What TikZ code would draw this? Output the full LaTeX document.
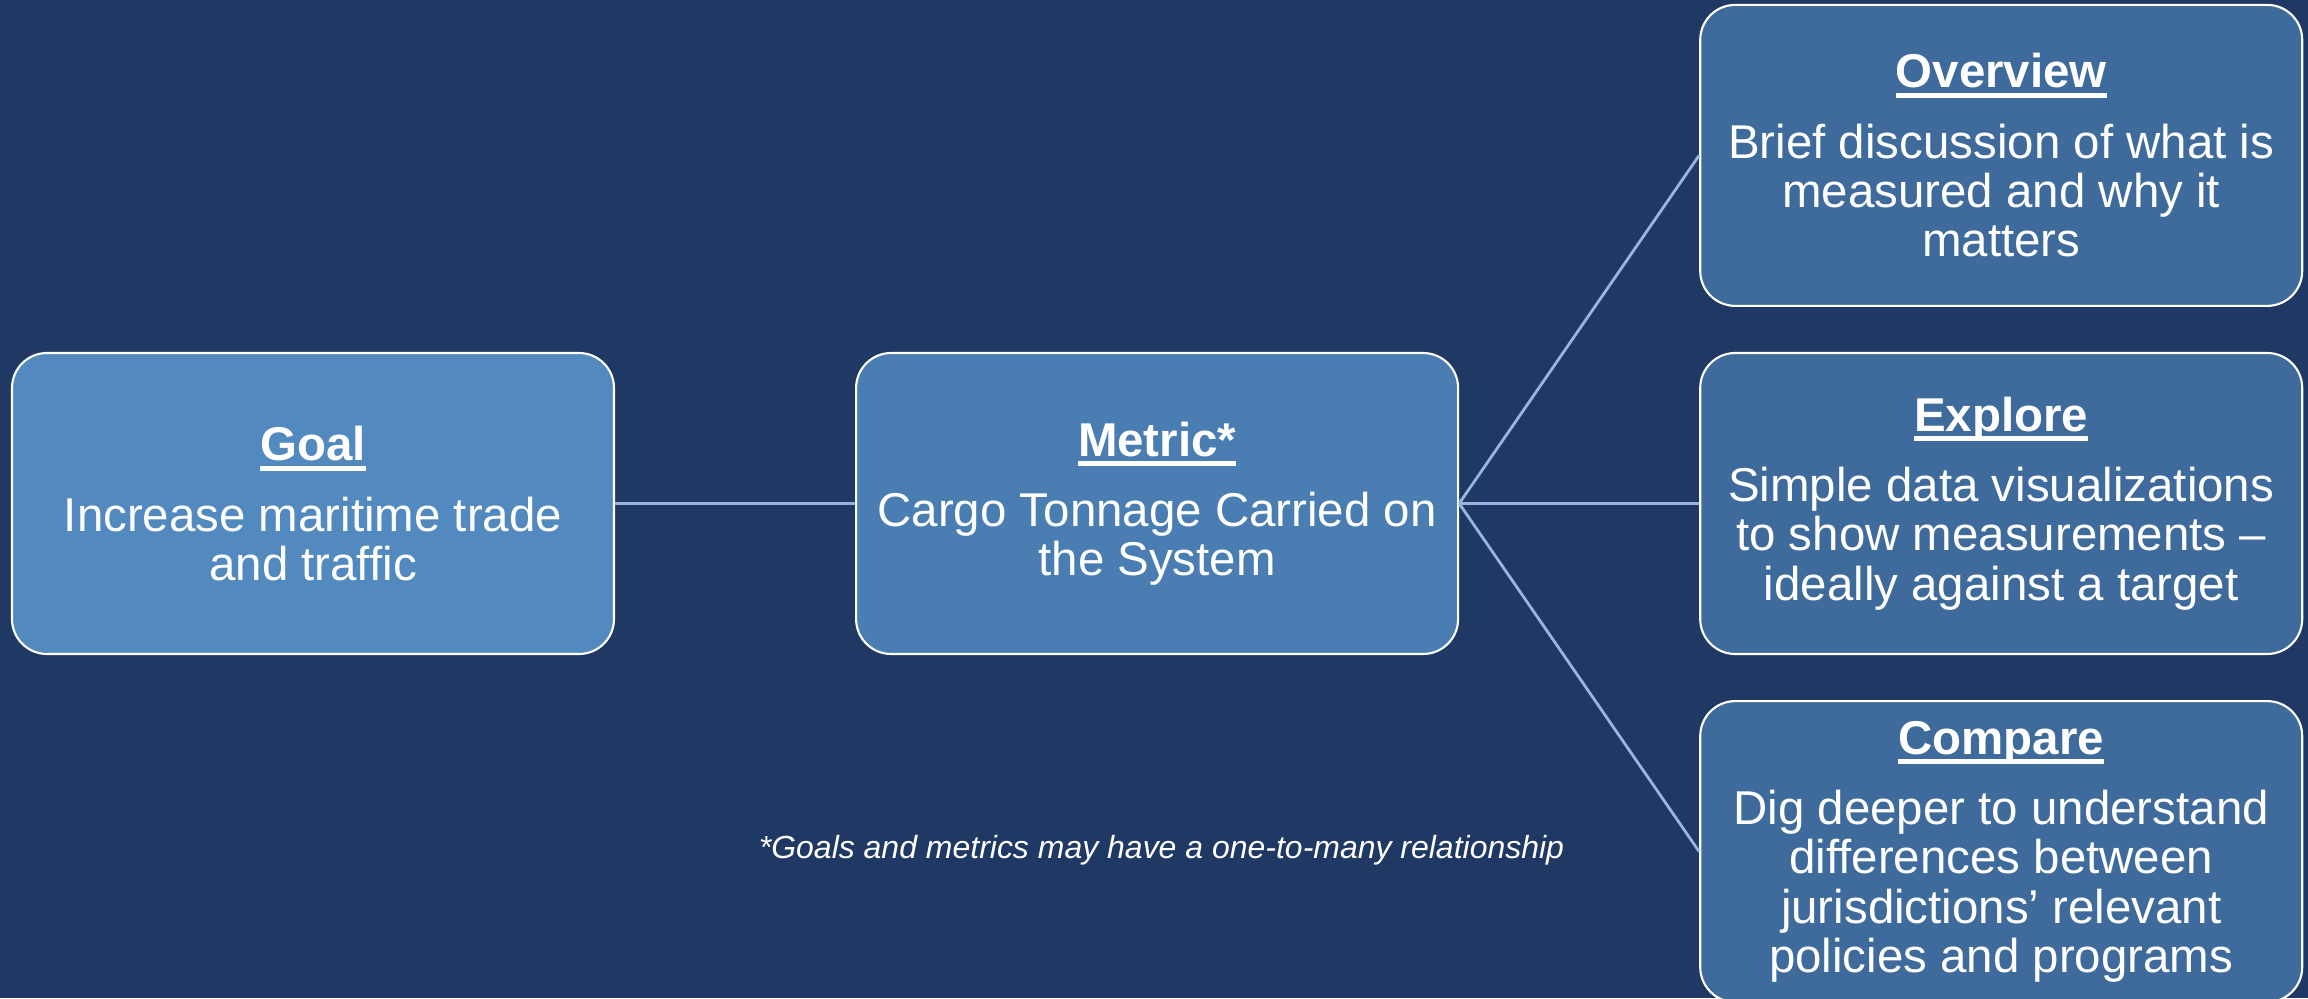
\documentclass[tikz,border=0pt]{standalone}
\usepackage{fontspec}
\setmainfont{Liberation Sans}
\usepackage{tikz}
\usetikzlibrary{positioning}

\definecolor{bgnavy}{RGB}{32,56,100}
\definecolor{goalblue}{RGB}{82,137,191}
\definecolor{metricblue}{RGB}{74,125,177}
\definecolor{sideblue}{RGB}{62,106,156}
\definecolor{linkblue}{RGB}{150,182,224}

\newcommand{\boxtitle}[1]{\setbox0\hbox{\bfseries #1}\rlap{\rule[-2.8pt]{\wd0}{1.4pt}}\box0}

\begin{document}
\begin{tikzpicture}[
	card/.style={draw=white, line width=0.6pt, rounded corners=0.35cm, text=white,
		minimum width=6.02cm, minimum height=3.01cm, inner sep=0pt, align=center,
		font=\fontsize{13.5}{14}\selectfont},
	link/.style={linkblue, line width=0.8pt}
]
	\fill[bgnavy] (0,0) rectangle (23.08,9.98);
	\useasboundingbox (0,0) rectangle (23.08,9.98);
	\node[card, fill=goalblue] (goal) at (3.13,4.945) {\boxtitle{Goal}\\[6pt] Increase maritime trade\\ and traffic};
	\node[card, fill=metricblue, right=2.4cm of goal] (metric) {\boxtitle{Metric*}\\[6pt] Cargo Tonnage Carried on\\ the System};
	\node[card, fill=sideblue, right=2.4cm of metric] (explore) {\boxtitle{Explore}\\[6pt] Simple data visualizations\\ to show measurements --\\ ideally against a target};
	\node[card, fill=sideblue, above=0.45cm of explore] (overview) {\boxtitle{Overview}\\[6pt] Brief discussion of what is\\ measured and why it\\ matters};
	\node[card, fill=sideblue, below=0.45cm of explore] (compare) {\boxtitle{Compare}\\[6pt] Dig deeper to understand\\ differences between\\ jurisdictions’ relevant\\ policies and programs};
	\node[text=white, font=\fontsize{9.1}{11}\selectfont\itshape, anchor=base] (note) at (11.615,1.40) {*Goals and metrics may have a one-to-many relationship};
	% connectors
	\draw[link] (goal) -- (metric);
	\foreach \n in {overview, explore, compare} {
		\draw[link] (metric.east) -- (\n.west);
	}
\end{tikzpicture}
\end{document}
